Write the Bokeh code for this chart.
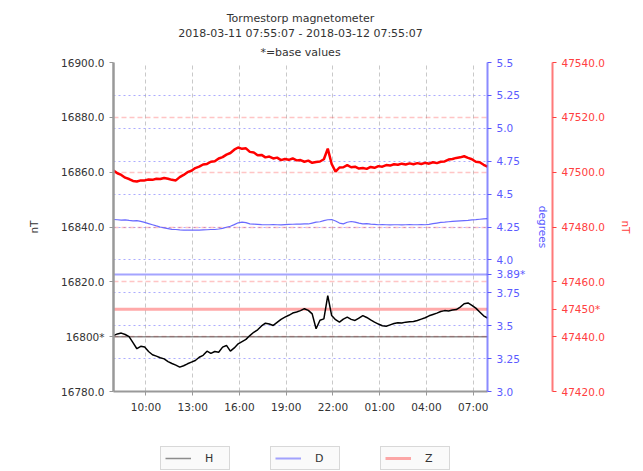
import pandas as pd
from bokeh.plotting import figure
from bokeh.layouts import column
from bokeh.models import (Range1d, LinearAxis, FixedTicker, Grid, Legend, LegendItem,
                          Title, DatetimeTickFormatter)
from bokeh.embed import file_html
from bokeh.resources import INLINE

# ---------------- data ----------------
start_time = "2018-03-11 07:55:07"
end_time = "2018-03-12 07:55:07"
step = "15min"

H_values = [
    16800.4, 16801.0, 16801.3, 16800.8, 16800.0, 16797.8, 16795.6, 16796.5,
    16796.2, 16794.6, 16793.4, 16792.9, 16792.3, 16791.9, 16790.9, 16790.2,
    16789.6, 16788.9, 16789.4, 16790.1, 16790.7, 16791.3, 16792.5, 16793.2,
    16794.7, 16793.9, 16794.6, 16794.3, 16796.2, 16796.8, 16794.7, 16795.9,
    16797.4, 16798.2, 16799.0, 16800.4, 16801.6, 16802.5, 16803.9, 16804.9,
    16804.6, 16804.1, 16805.2, 16806.3, 16807.1, 16807.8, 16808.6, 16809.0,
    16809.5, 16810.2, 16809.6, 16808.3, 16802.9, 16806.0, 16806.5, 16815.0,
    16807.7, 16806.2, 16805.3, 16806.4, 16807.1, 16806.3, 16805.9, 16806.8,
    16807.7, 16807.0, 16806.1, 16805.3, 16804.6, 16804.0, 16803.8, 16804.3,
    16804.8, 16805.1, 16805.0, 16805.3, 16805.4, 16805.5, 16805.9, 16806.4,
    16806.9, 16807.6, 16808.1, 16808.6, 16809.2, 16809.5, 16809.4, 16809.7,
    16809.9, 16810.8, 16812.0, 16812.3, 16811.4, 16810.4, 16809.0, 16807.6,
    16806.8,
]
D_values = [
    4.307, 4.305, 4.302, 4.304, 4.300, 4.297, 4.299, 4.293,
    4.285, 4.276, 4.267, 4.258, 4.250, 4.244, 4.238, 4.232,
    4.231, 4.228, 4.227, 4.226, 4.226, 4.227, 4.226, 4.228,
    4.229, 4.231, 4.231, 4.235, 4.240, 4.248, 4.256, 4.268,
    4.282, 4.287, 4.283, 4.274, 4.272, 4.270, 4.268, 4.267,
    4.267, 4.268, 4.267, 4.266, 4.268, 4.270, 4.271, 4.272,
    4.272, 4.274, 4.273, 4.280, 4.287, 4.290, 4.298, 4.305,
    4.307, 4.296, 4.280, 4.274, 4.286, 4.292, 4.287, 4.280,
    4.274, 4.276, 4.272, 4.270, 4.267, 4.268, 4.267, 4.266,
    4.267, 4.267, 4.266, 4.267, 4.268, 4.267, 4.267, 4.268,
    4.267, 4.270, 4.275, 4.280, 4.285, 4.287, 4.290, 4.293,
    4.295, 4.297, 4.299, 4.301, 4.304, 4.306, 4.309, 4.312,
    4.313,
]
Z_values = [
    47500.6, 47499.6, 47499.0, 47498.0, 47497.5, 47496.8, 47496.6, 47497.0,
    47497.0, 47497.3, 47497.2, 47497.6, 47497.5, 47497.9, 47497.6, 47497.2,
    47497.0, 47498.2, 47499.0, 47500.0, 47500.5, 47501.5, 47502.0, 47502.8,
    47503.0, 47503.8, 47504.0, 47505.0, 47505.5, 47506.4, 47507.0, 47508.2,
    47509.0, 47508.5, 47508.7, 47507.4, 47507.2, 47506.2, 47506.3, 47505.4,
    47505.7, 47505.0, 47505.3, 47504.4, 47504.8, 47504.5, 47505.0, 47504.3,
    47504.4, 47503.8, 47504.2, 47503.4, 47503.7, 47503.9, 47504.7, 47508.6,
    47503.0, 47500.2, 47501.7, 47501.8, 47502.6, 47501.8, 47502.0, 47501.3,
    47501.5, 47501.2, 47501.9, 47501.6, 47502.2, 47502.0, 47502.6, 47502.4,
    47502.9, 47502.7, 47503.1, 47502.8, 47503.2, 47502.9, 47503.3, 47503.0,
    47503.4, 47503.1, 47503.6, 47503.3, 47503.8, 47503.9, 47504.6, 47504.8,
    47505.2, 47505.4, 47505.8, 47505.2, 47504.7, 47503.8, 47503.6, 47502.7,
    47502.0,
]

H_base = 16800
D_base = 3.89
Z_base = 47450

H_range = [16780, 16900]
D_range = [3.0, 5.5]
Z_range = [47420, 47540]

H_ticks = [16780, 16800, 16820, 16840, 16860, 16880, 16900]
D_ticks = [3.0, 3.25, 3.5, 3.75, 3.89, 4.0, 4.25, 4.5, 4.75, 5.0, 5.25, 5.5]
Z_ticks = [47420, 47440, 47450, 47460, 47480, 47500, 47520, 47540]
D_tick_labels = ["3.0", "3.25", "3.5", "3.75", "3.89*", "4.0", "4.25", "4.5",
                 "4.75", "5.0", "5.25", "5.5"]
x_tick_times = ["2018-03-11 10:00", "2018-03-11 13:00", "2018-03-11 16:00",
                "2018-03-11 19:00", "2018-03-11 22:00", "2018-03-12 01:00",
                "2018-03-12 04:00", "2018-03-12 07:00"]

series_names = ["H", "D", "Z"]
title_lines = ["Tormestorp magnetometer",
               "2018-03-11 07:55:07 - 2018-03-12 07:55:07",
               "*=base values"]

# ---------------- build ----------------
FONT = "DejaVu Sans"
BLUE = "#5a5aff"
RED = "#ff4040"
times = pd.date_range(start_time, periods=len(H_values), freq=step)
t0 = pd.Timestamp(start_time)
t1 = pd.Timestamp(end_time)

FW, FH = 374, 329
LEFT, TOP = 113, 62
W, H = 641, 419

p = figure(width=W, height=H,
           x_axis_type="datetime", output_backend="svg", toolbar_location=None,
           x_range=Range1d(t0, t1), y_range=Range1d(*H_range),
           min_border_left=LEFT, min_border_top=TOP,
           min_border_right=W - LEFT - FW, min_border_bottom=H - TOP - FH,
           title=None)
p.outline_line_color = None
p.background_fill_color = "white"
p.border_fill_color = "white"

p.extra_y_ranges = {"d": Range1d(*D_range), "z": Range1d(*Z_range)}

# titles (first added = closest to plot)
for i, line in enumerate(reversed(title_lines)):
    p.add_layout(Title(text=line, align="center", text_font=FONT,
                       text_font_size="11px", text_font_style="normal",
                       text_line_height=1.05,
                       text_color="#333333", standoff=(8 if i == 0 else 0),
                       offset=0), "above")

# x axis
xax = p.xaxis[0]
xax.ticker = FixedTicker(ticks=[pd.Timestamp(t).value / 1e6 for t in x_tick_times])
xax.formatter = DatetimeTickFormatter(hours="%H:%M", days="%H:%M", minutes="%H:%M")
xax.major_label_text_font = FONT
xax.major_label_text_font_size = "10.5px"
xax.major_label_text_color = "#333333"
xax.axis_line_color = "#999999"
xax.axis_line_width = 2
xax.major_tick_line_color = "#999999"
xax.minor_tick_line_color = None
xax.major_tick_in = 0
xax.major_tick_out = 4

# left axis (H)
yax = p.yaxis[0]
yax.ticker = FixedTicker(ticks=H_ticks)
yax.major_label_overrides = {t: (f"{t}*" if t == H_base else f"{t:.1f}") for t in H_ticks}
yax.axis_label = "nT"
yax.axis_label_text_font = FONT
yax.axis_label_text_font_size = "10.5px"
yax.axis_label_text_font_style = "normal"
yax.axis_label_text_color = "#333333"
yax.axis_label_standoff = 18
yax.major_label_text_font = FONT
yax.major_label_text_font_size = "10.5px"
yax.major_label_text_color = "#333333"
yax.axis_line_color = "#999999"
yax.axis_line_width = 2.5
yax.major_tick_line_color = "#999999"
yax.minor_tick_line_color = None
yax.major_tick_in = 0
yax.major_tick_out = 4

# right axes
dax = LinearAxis(y_range_name="d", ticker=FixedTicker(ticks=D_ticks))
dax.major_label_overrides = {t: lab for t, lab in zip(D_ticks, D_tick_labels)}
dax.axis_label = "degrees"
zax = LinearAxis(y_range_name="z", ticker=FixedTicker(ticks=Z_ticks))
zax.major_label_overrides = {t: (f"{t}*" if t == Z_base else f"{t:.1f}") for t in Z_ticks}
zax.axis_label = "nT"
for ax, col, st in ((dax, BLUE, 9), (zax, RED, 12)):
    ax.axis_label_text_font = FONT
    ax.axis_label_text_font_size = "10.5px"
    ax.axis_label_text_font_style = "normal"
    ax.axis_label_text_color = col
    ax.axis_label_standoff = st
    ax.major_label_text_font = FONT
    ax.major_label_text_font_size = "10.5px"
    ax.major_label_text_color = col
    ax.axis_line_color = col
    ax.axis_line_alpha = 0.7
    ax.axis_line_width = 2
    ax.major_tick_line_color = col
    ax.minor_tick_line_color = None
    ax.major_tick_in = 0
    ax.major_tick_out = 4
p.add_layout(dax, "right")
p.add_layout(zax, "right")

# grids
p.xgrid.ticker = xax.ticker
p.xgrid.grid_line_color = "#bbbbbb"
p.xgrid.grid_line_dash = "4 3"
p.xgrid.grid_line_alpha = 0.8
p.ygrid.visible = False

dgrid = Grid(dimension=1, y_range_name="d",
             ticker=FixedTicker(ticks=[t for t in D_ticks if t != D_base]),
             grid_line_color=BLUE, grid_line_alpha=0.5, grid_line_dash="2 3",
             grid_line_width=1)
zgrid = Grid(dimension=1, y_range_name="z",
             ticker=FixedTicker(ticks=[t for t in Z_ticks if t != Z_base]),
             grid_line_color=RED, grid_line_alpha=0.3, grid_line_dash="5 3",
             grid_line_width=1.5)
p.add_layout(dgrid)
p.add_layout(zgrid)

# base lines
base_styles = [dict(line_color="#333333", line_alpha=0.55, line_width=1.5),
               dict(line_color=BLUE, line_alpha=0.55, line_width=2),
               dict(line_color=RED, line_alpha=0.45, line_width=3)]
p.line([t0, t1], [H_base, H_base], **base_styles[0])
p.line([t0, t1], [D_base, D_base], y_range_name="d", **base_styles[1])
p.line([t0, t1], [Z_base, Z_base], y_range_name="z", **base_styles[2])

# data lines
p.line(times, D_values, y_range_name="d", line_color="#6a6aff", line_width=1.2)
p.line(times, H_values, line_color="black", line_width=1.5)
p.line(times, Z_values, y_range_name="z", line_color="#ff0000", line_width=2.5)

# ---------------- legend strip below the chart ----------------
LH = 52
leg = figure(width=W, height=LH, output_backend="svg", toolbar_location=None,
             x_axis_location=None, y_axis_location=None, min_border=0,
             x_range=Range1d(0, 1), y_range=Range1d(0, 1))
leg.outline_line_color = None
leg.grid.visible = False
leg.background_fill_color = "white"
leg.border_fill_color = "white"
nan = float("nan")
for i, (name, style) in enumerate(zip(series_names, base_styles)):
    r = leg.line(x=[nan], y=[nan], **style)
    lg = Legend(items=[LegendItem(label=name, renderers=[r])],
                location=(47 + 110 * i, 1), orientation="horizontal",
                label_text_font=FONT, label_text_font_size="11px",
                label_text_color="#333333", glyph_width=26, glyph_height=14,
                label_standoff=14, label_height=14,
                padding=4, margin=0, border_line_color="#b5b5b5",
                border_line_width=1, background_fill_color="#fafafa",
                background_fill_alpha=1.0)
    leg.add_layout(lg, "center")

layout = column(p, leg, spacing=0)
open("out.html", "w").write(file_html(layout, INLINE))
